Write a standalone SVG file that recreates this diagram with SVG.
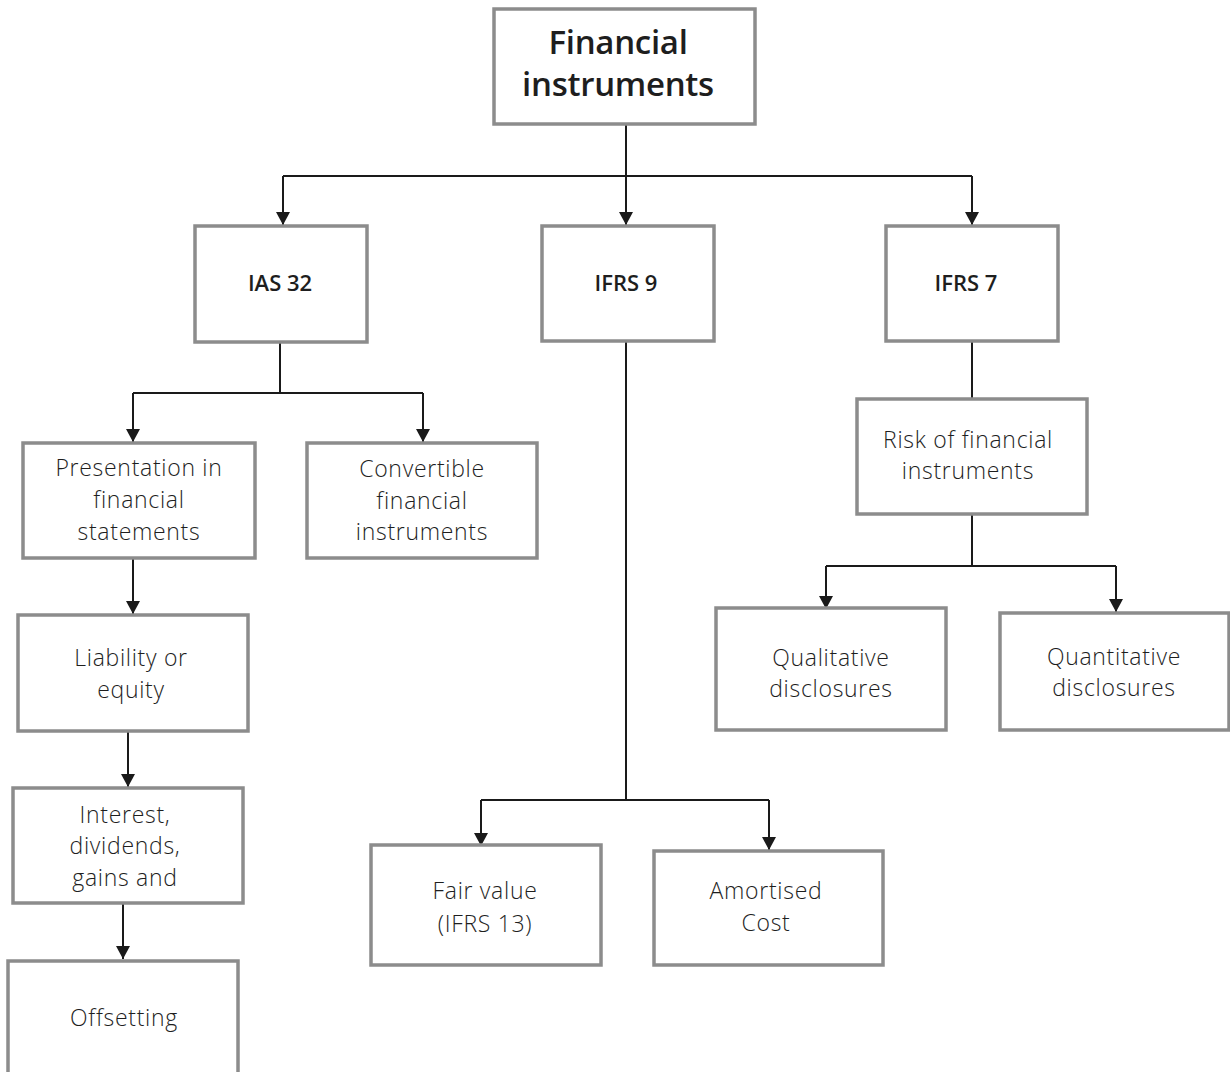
<svg xmlns="http://www.w3.org/2000/svg" width="1230" height="1072" viewBox="0 0 1230 1072">
  <defs>
    <marker id="arrow" viewBox="0 0 13 14" refX="13" refY="7" markerWidth="13" markerHeight="14" markerUnits="userSpaceOnUse" orient="auto">
      <path d="M0,0 L13,7 L0,14 Z" fill="#1a1a1a"/>
    </marker>
    <style>
      .box { fill: #ffffff; stroke: #8c8c8c; stroke-width: 3.5; }
      .lbl { font-family: "Open Sans", "Liberation Sans", sans-serif; font-weight: 300; font-size: 23px; fill: #1e1e1e; text-anchor: middle; letter-spacing: 0.7px; }
      .hd { font-family: "Open Sans", "Liberation Sans", sans-serif; font-weight: 600; font-size: 22px; fill: #1e1e1e; text-anchor: middle; }
      .title { font-family: "Open Sans", "Liberation Sans", sans-serif; font-weight: 600; font-size: 33px; fill: #1e1e1e; text-anchor: middle; letter-spacing: -0.3px; }
      .wire { fill: none; stroke: #1a1a1a; stroke-width: 2; }
    </style>
  </defs>
  <rect width="1230" height="1072" fill="#ffffff"/>

  <g id="connectors">
    <path class="wire" d="M626,124 V176"/>
    <path class="wire" d="M283,176 H972"/>
    <path class="wire" d="M283,176 V225" marker-end="url(#arrow)"/>
    <path class="wire" d="M626,176 V225" marker-end="url(#arrow)"/>
    <path class="wire" d="M972,176 V225" marker-end="url(#arrow)"/>

    <path class="wire" d="M280,342 V393"/>
    <path class="wire" d="M133,393 H423"/>
    <path class="wire" d="M133,393 V442" marker-end="url(#arrow)"/>
    <path class="wire" d="M423,393 V442" marker-end="url(#arrow)"/>
    <path class="wire" d="M133,558 V614" marker-end="url(#arrow)"/>
    <path class="wire" d="M128,731 V787" marker-end="url(#arrow)"/>
    <path class="wire" d="M123,903 V959" marker-end="url(#arrow)"/>

    <path class="wire" d="M626,341 V800"/>
    <path class="wire" d="M481,800 H769"/>
    <path class="wire" d="M481,800 V846" marker-end="url(#arrow)"/>
    <path class="wire" d="M769,800 V850" marker-end="url(#arrow)"/>

    <path class="wire" d="M972,341 V399"/>
    <path class="wire" d="M972,514 V566"/>
    <path class="wire" d="M826,566 H1116"/>
    <path class="wire" d="M826,566 V609" marker-end="url(#arrow)"/>
    <path class="wire" d="M1116,566 V612" marker-end="url(#arrow)"/>
  </g>

  <g id="financial-instruments">
    <rect class="box" x="494" y="9" width="261" height="115"/>
    <text class="title" x="618" y="54">Financial</text>
    <text class="title" x="618" y="96">instruments</text>
  </g>

  <g id="ias-32">
    <rect class="box" x="195" y="226" width="172" height="116"/>
    <text class="hd" x="280" y="291">IAS 32</text>
  </g>

  <g id="ifrs-9">
    <rect class="box" x="542" y="226" width="172" height="115"/>
    <text class="hd" x="626" y="291">IFRS 9</text>
  </g>

  <g id="ifrs-7">
    <rect class="box" x="886" y="226" width="172" height="115"/>
    <text class="hd" x="966" y="291">IFRS 7</text>
  </g>

  <g id="presentation">
    <rect class="box" x="23" y="443" width="232" height="115"/>
    <text class="lbl" x="139" y="476">Presentation in</text>
    <text class="lbl" x="139" y="508">financial</text>
    <text class="lbl" x="139" y="540">statements</text>
  </g>

  <g id="convertible">
    <rect class="box" x="307" y="443" width="230" height="115"/>
    <text class="lbl" x="422" y="477">Convertible</text>
    <text class="lbl" x="422" y="509">financial</text>
    <text class="lbl" x="422" y="540">instruments</text>
  </g>

  <g id="liability-equity">
    <rect class="box" x="18" y="615" width="230" height="116"/>
    <text class="lbl" x="131" y="666">Liability or</text>
    <text class="lbl" x="131" y="698">equity</text>
  </g>

  <g id="interest">
    <rect class="box" x="13" y="788" width="230" height="115"/>
    <text class="lbl" x="125" y="823">Interest,</text>
    <text class="lbl" x="125" y="854">dividends,</text>
    <text class="lbl" x="125" y="886">gains and</text>
  </g>

  <g id="offsetting">
    <rect class="box" x="8" y="961" width="230" height="130"/>
    <text class="lbl" x="124" y="1026">Offsetting</text>
  </g>

  <g id="fair-value">
    <rect class="box" x="371" y="845" width="230" height="120"/>
    <text class="lbl" x="485" y="899">Fair value</text>
    <text class="lbl" x="485" y="932">(IFRS 13)</text>
  </g>

  <g id="amortised-cost">
    <rect class="box" x="654" y="851" width="229" height="114"/>
    <text class="lbl" x="766" y="899">Amortised</text>
    <text class="lbl" x="766" y="931">Cost</text>
  </g>

  <g id="risk">
    <rect class="box" x="857" y="399" width="230" height="115"/>
    <text class="lbl" x="968" y="448">Risk of financial</text>
    <text class="lbl" x="968" y="479">instruments</text>
  </g>

  <g id="qualitative">
    <rect class="box" x="716" y="608" width="230" height="122"/>
    <text class="lbl" x="831" y="666">Qualitative</text>
    <text class="lbl" x="831" y="697">disclosures</text>
  </g>

  <g id="quantitative">
    <rect class="box" x="1000" y="613" width="229" height="117"/>
    <text class="lbl" x="1114" y="665">Quantitative</text>
    <text class="lbl" x="1114" y="696">disclosures</text>
  </g>
</svg>
